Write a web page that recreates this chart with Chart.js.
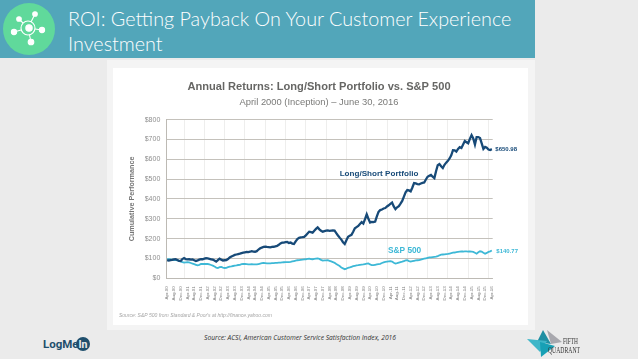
<!DOCTYPE html>
<html>
<head>
<meta charset="utf-8">
<title>ROI: Getting Payback On Your Customer Experience Investment</title>
<script src="https://cdn.jsdelivr.net/npm/chart.js@4/dist/chart.umd.min.js"></script>
<style>
html, body { margin: 0; padding: 0; width: 638px; height: 359px; overflow: hidden; background: #ebebeb; }
#header { position: absolute; left: 0; top: 0; width: 535px; height: 58px; background: #52a6ba; }
#headline { position: absolute; left: 68px; top: 6px; width: 450px; color: #fff; font: 300 19.8px/25px Lato, sans-serif; }
#badge { position: absolute; left: 3px; top: 3px; }
#panel { position: absolute; left: 107px; top: 60px; width: 428px; height: 270px; background: #f4f4f4; }
#sheet { position: absolute; left: 113px; top: 68px; width: 415px; height: 257px; background: #fff; }
#chartbox { position: absolute; left: 108px; top: 63px; width: 426px; height: 267px; filter: blur(0.35px); }
#source { position: absolute; left: 0; top: 333px; width: 600px; text-align: center; color: #333; font: italic 6.7px "Open Sans", sans-serif; }
#logmein { position: absolute; left: 42px; top: 334px; }
#fifth { position: absolute; left: 525px; top: 328px; }
</style>
</head>
<body>
<div id="header"></div>
<svg id="badge" width="52" height="52" viewBox="0 0 52 52">
  <circle cx="26" cy="26" r="26" fill="#60d99b"/>
  <g stroke="#fff" stroke-width="1.1" fill="#fff">
    <line x1="25" y1="25" x2="16" y2="16"/><line x1="25" y1="25" x2="32" y2="11"/>
    <line x1="25" y1="25" x2="39" y2="27"/><line x1="25" y1="25" x2="28" y2="39"/>
    <line x1="25" y1="25" x2="11" y2="29"/>
    <circle cx="16" cy="16" r="2.3"/><circle cx="32" cy="11" r="2.3"/><circle cx="39" cy="27" r="2.6"/>
    <circle cx="28" cy="39" r="2.8"/><circle cx="11" cy="29" r="2.6"/>
    <circle cx="25" cy="25" r="7" fill="#60d99b"/><circle cx="26" cy="25" r="3.2"/>
  </g>
</svg>
<div id="headline">ROI: Getting Payback On Your Customer Experience Investment</div>
<div id="panel"></div>
<div id="sheet"></div>
<div id="chartbox"><canvas id="returnsChart" width="426" height="267"></canvas></div>
<div id="source">Source: ACSI, American Customer Service Satisfaction Index, 2016</div>
<svg id="logmein" width="52" height="20" viewBox="0 0 52 20">
  <text x="1" y="14" font-family="Roboto" font-weight="700" font-size="11.5" fill="#1f4f6d">LogMe</text>
  <circle cx="41" cy="10" r="7" fill="#1f4f6d"/>
  <text x="41" y="14" text-anchor="middle" font-family="Roboto" font-weight="700" font-size="10.5" fill="#ebebeb">In</text>
</svg>
<svg id="fifth" width="100" height="30" viewBox="0 0 100 30">
  <polygon points="18,2 26,16 12,14" fill="#1f8fa3"/>
  <polygon points="22,2 37,14 26,16" fill="#a8a8ae"/>
  <polygon points="2,11 22,13 15,24" fill="#3fb6c8"/>
  <polygon points="15,14 30,18 16,29" fill="#17a0b5"/>
  <text x="38" y="16" font-family="Liberation Sans Narrow" font-size="7.5" textLength="15" lengthAdjust="spacingAndGlyphs" fill="#333">FIFTH</text>
  <text x="23" y="24.5" font-family="Liberation Sans Narrow" font-size="7.5" textLength="32" lengthAdjust="spacingAndGlyphs" fill="#333">QUADRANT</text>
</svg>
<script>
var chartTitle = "Annual Returns: Long/Short Portfolio vs. S&P 500";
var chartSubtitle = "April 2000 (Inception) \u2013 June 30, 2016";
var monthNames = ["Jan","Feb","Mar","Apr","May","Jun","Jul","Aug","Sep","Oct","Nov","Dec"];

var longShort = [92,89,92,93,95,96,92,88,87,97,102,97,95,96,94,95,91,87,90,94,97,96,99,101,100,98,96,94,90,84,92,99,94,90,91,92,97,105,110,114,118,120,122,124,127,129,131,133,132,134,137,135,134,137,145,151,155,158,160,158,157,156,158,159,161,163,169,176,180,180,182,183,178,180,175,173,186,198,204,206,207,209,216,226,235,233,230,240,249,257,247,240,235,238,240,241,239,240,241,240,228,216,205,195,182,173,192,209,215,219,235,252,258,264,274,283,276,298,322,300,281,284,283,286,312,335,344,347,352,354,362,368,375,382,362,349,358,364,376,390,412,433,445,443,438,458,480,478,475,474,478,481,483,498,512,517,521,512,505,540,570,576,565,556,572,583,592,604,620,646,645,639,652,661,657,675,692,686,681,703,722,705,674,712,712,707,680,652,662,658,649,647,651];
var sp500 = [97,96,95,94,92,92,90,89,85,82,79,80,81,80,77,74,71,68,65,68,72,72,73,72,72,70,67,64,59,54,52,56,57,54,52,53,56,59,60,62,64,65,67,68,71,72,72,71,70,70,71,70,70,70,72,74,76,77,76,75,75,75,76,77,78,78,79,79,80,81,82,82,82,83,85,87,89,91,92,93,94,95,96,98,99,97,96,98,99,100,98,93,89,90,90,91,88,85,82,78,72,67,62,54,50,46,49,53,55,58,61,63,65,66,68,69,70,72,74,75,70,66,66,68,70,72,73,77,80,83,84,85,86,84,78,74,76,79,82,84,87,90,91,87,84,86,88,90,91,92,94,97,99,101,103,105,106,107,108,109,112,116,119,120,121,122,123,125,127,129,130,132,133,134,135,135,136,136,135,135,134,133,129,124,131,136,134,129,124,128,133,136,140];

var yTicks = [0,100,200,300,400,500,600,700,800];
var endLabels = ["$650.98", "$140.77"];
var seriesNames = ["Long/Short Portfolio", "S&P 500"];
var sourceNote = "Source: S&P 500 from Standard & Poor's at http://finance.yahoo.com";

// months from Apr-00 to Apr-16
var months = [];
for (var m = 3; months.length < longShort.length; m++) {
    var yy = 2000 + Math.floor(m / 12);
    months.push(monthNames[m % 12] + "-" + String(yy).slice(2));
}

var darkBlue = "#174a78";
var lightBlue = "#3db8d6";

// labels next to the lines and the small print, placed from the scales
var notes = {
    id: "notes",
    afterDatasetsDraw: function (chart) {
        var c = chart.ctx, x = chart.scales.x, y = chart.scales.y;
        var last = longShort.length - 1;
        c.save();
        c.textBaseline = "middle";
        c.font = "bold 6px Liberation Sans";
        c.fillStyle = darkBlue;
        c.fillText(endLabels[0], x.getPixelForValue(last) + 3.5, y.getPixelForValue(652));
        c.fillStyle = lightBlue;
        c.fillText(endLabels[1], x.getPixelForValue(last) + 4.5, y.getPixelForValue(134));
        c.font = "bold 8.1px Liberation Sans";
        c.fillStyle = darkBlue;
        c.fillText(seriesNames[0], x.getPixelForValue(102), y.getPixelForValue(528));
        c.font = "bold 8.3px Liberation Sans";
        c.fillStyle = lightBlue;
        c.fillText(seriesNames[1], x.getPixelForValue(130.6), y.getPixelForValue(139));
        c.font = "italic 5px Liberation Sans";
        c.fillStyle = "#a5a5a5";
        c.fillText(sourceNote, 11, 253);
        c.restore();
    }
};

var ctx = document.getElementById("returnsChart").getContext("2d");
var chart = new Chart(ctx, {
    type: "line",
    plugins: [notes],
    data: {
        labels: months,
        datasets: [
            { label: seriesNames[0], data: longShort, borderColor: darkBlue, borderWidth: 2.3, pointRadius: 0, tension: 0 },
            { label: seriesNames[1], data: sp500, borderColor: lightBlue, borderWidth: 1.8, pointRadius: 0, tension: 0 }
        ]
    },
    options: {
        responsive: false,
        animation: false,
        layout: { padding: { left: 0, right: 4, top: 17, bottom: 0 } },
        plugins: {
            legend: { display: false },
            tooltip: { enabled: false },
            title: {
                display: true,
                text: chartTitle,
                color: "#666664",
                font: { family: "Liberation Sans", size: 11.1, weight: "bold" },
                padding: { top: 0, bottom: 3 }
            },
            subtitle: {
                display: true,
                text: chartSubtitle,
                color: "#7a7a78",
                font: { family: "Liberation Sans", size: 9.4, weight: "normal" },
                padding: { top: 0, bottom: 12 }
            }
        },
        scales: {
            x: {
                offset: true,
                border: { color: "#bdbab4" },
                grid: {
                    offset: false,
                    drawTicks: false,
                    lineWidth: 0.6,
                    color: function (c) {
                        return (c.index - 10) % 12 === 0 ? "#e2e2e0" : "rgba(0,0,0,0)";
                    }
                },
                afterFit: function (scale) { scale.height = 51.7; },
                ticks: {
                    autoSkip: false,
                    maxRotation: 90,
                    minRotation: 90,
                    padding: 8,
                    color: "#7d7d7d",
                    font: { family: "Liberation Sans", size: 4.4 },
                    callback: function (v, i) { return i % 4 === 0 ? months[i] : ""; }
                }
            },
            y: {
                min: 0,
                max: 800,
                border: { color: "#bdbab4" },
                afterFit: function (scale) { scale.width = 58.3; },
                afterBuildTicks: function (scale) {
                    scale.ticks = yTicks.map(function (v) { return { value: v }; });
                },
                grid: { color: "#c4c1bb", lineWidth: 1, drawTicks: false },
                title: {
                    display: true,
                    text: "Cumulative Performance",
                    color: "#777",
                    font: { family: "Liberation Sans", size: 7.2, weight: "bold" },
                    padding: { top: 20, bottom: 0 }
                },
                ticks: {
                    padding: 6,
                    color: "#8f8f8f",
                    font: { family: "Liberation Sans", size: 7 },
                    callback: function (v) { return "$" + v; }
                }
            },
            // empty strip on the right, keeps room for the end labels
            side: {
                position: "right",
                min: 0,
                max: 800,
                border: { display: false },
                grid: { display: false },
                ticks: { display: false },
                afterFit: function (scale) { scale.width = 37.3; }
            }
        }
    }
});
</script>
</body>
</html>
